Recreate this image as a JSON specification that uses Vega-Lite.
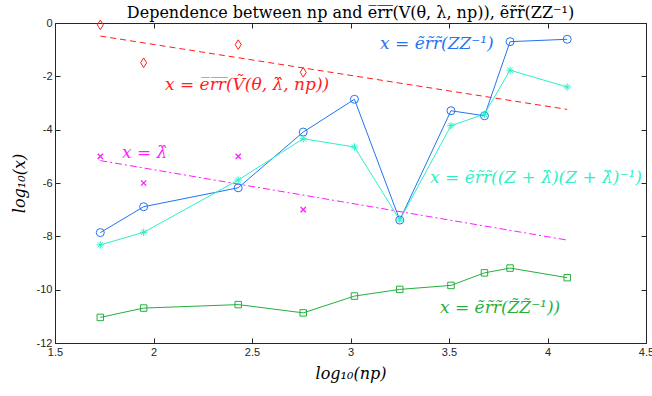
{
  "$schema": "https://vega.github.io/schema/vega-lite/v6.json",
  "width": 591,
  "height": 320,
  "autosize": {"type": "none"},
  "padding": {"left": 55, "top": 23, "right": 6, "bottom": 53},
  "background": "white",
  "title": {
    "text": "Dependence between np and e̅r̅r̅(V(θ, λ, np)), ẽr̃r̃(ZZ⁻¹)",
    "font": "DejaVu Serif",
    "fontSize": 16,
    "fontWeight": "normal",
    "color": "#000000",
    "anchor": "middle",
    "offset": -4
  },
  "config": {
    "view": {"stroke": "#262626", "strokeWidth": 1},
    "axis": {
      "grid": false,
      "labelFlush": false,
      "domainColor": "#262626",
      "tickColor": "#262626",
      "labelColor": "#262626",
      "labelFont": "Liberation Sans",
      "labelFontSize": 11,
      "titleFont": "DejaVu Serif",
      "titleFontStyle": "italic",
      "titleFontWeight": "normal",
      "titleFontSize": 16,
      "titleColor": "#000000"
    }
  },
  "datasets": {
    "pts": [
      {"series": "ZZ", "kind": "pts", "x": 1.73, "y": -7.86},
      {"series": "ZZ", "kind": "pts", "x": 1.95, "y": -6.89},
      {"series": "ZZ", "kind": "pts", "x": 2.43, "y": -6.18},
      {"series": "ZZ", "kind": "pts", "x": 2.76, "y": -4.09},
      {"series": "ZZ", "kind": "pts", "x": 3.02, "y": -2.86},
      {"series": "ZZ", "kind": "pts", "x": 3.25, "y": -7.39},
      {"series": "ZZ", "kind": "pts", "x": 3.51, "y": -3.29},
      {"series": "ZZ", "kind": "pts", "x": 3.68, "y": -3.48},
      {"series": "ZZ", "kind": "pts", "x": 3.81, "y": -0.70},
      {"series": "ZZ", "kind": "pts", "x": 4.10, "y": -0.61},
      {"series": "ZL", "kind": "pts", "x": 1.73, "y": -8.32},
      {"series": "ZL", "kind": "pts", "x": 1.95, "y": -7.85},
      {"series": "ZL", "kind": "pts", "x": 2.43, "y": -5.89},
      {"series": "ZL", "kind": "pts", "x": 2.76, "y": -4.34},
      {"series": "ZL", "kind": "pts", "x": 3.02, "y": -4.65},
      {"series": "ZL", "kind": "pts", "x": 3.25, "y": -7.39},
      {"series": "ZL", "kind": "pts", "x": 3.51, "y": -3.85},
      {"series": "ZL", "kind": "pts", "x": 3.68, "y": -3.42},
      {"series": "ZL", "kind": "pts", "x": 3.81, "y": -1.77},
      {"series": "ZL", "kind": "pts", "x": 4.10, "y": -2.40},
      {"series": "ZtZt", "kind": "pts", "x": 1.73, "y": -11.04},
      {"series": "ZtZt", "kind": "pts", "x": 1.95, "y": -10.69},
      {"series": "ZtZt", "kind": "pts", "x": 2.43, "y": -10.56},
      {"series": "ZtZt", "kind": "pts", "x": 2.76, "y": -10.87},
      {"series": "ZtZt", "kind": "pts", "x": 3.02, "y": -10.24},
      {"series": "ZtZt", "kind": "pts", "x": 3.25, "y": -9.99},
      {"series": "ZtZt", "kind": "pts", "x": 3.51, "y": -9.84},
      {"series": "ZtZt", "kind": "pts", "x": 3.68, "y": -9.37},
      {"series": "ZtZt", "kind": "pts", "x": 3.81, "y": -9.19},
      {"series": "ZtZt", "kind": "pts", "x": 4.10, "y": -9.55},
      {"series": "Vbar", "kind": "pts", "x": 1.73, "y": -0.07},
      {"series": "Vbar", "kind": "pts", "x": 1.95, "y": -1.49},
      {"series": "Vbar", "kind": "pts", "x": 2.43, "y": -0.81},
      {"series": "Vbar", "kind": "pts", "x": 2.76, "y": -1.85},
      {"series": "lambda", "kind": "pts", "x": 1.73, "y": -5.0},
      {"series": "lambda", "kind": "pts", "x": 1.95, "y": -6.0},
      {"series": "lambda", "kind": "pts", "x": 2.43, "y": -5.0},
      {"series": "lambda", "kind": "pts", "x": 2.76, "y": -7.0},
      {"series": "Vbar", "kind": "fit", "x": 1.73, "y": -0.49},
      {"series": "Vbar", "kind": "fit", "x": 4.10, "y": -3.24},
      {"series": "lambda", "kind": "fit", "x": 1.73, "y": -5.16},
      {"series": "lambda", "kind": "fit", "x": 4.10, "y": -8.14}
    ],
    "labels": [
      {"series": "Vbar", "x": 2.058, "y": -2.32, "text": "x = e̅r̅r̅(Ṽ(θ, λ̂, np))"},
      {"series": "lambda", "x": 1.84, "y": -4.87, "text": "x = λ̂"},
      {"series": "ZZ", "x": 3.15, "y": -0.79, "text": "x = ẽr̃r̃(ZZ⁻¹)"},
      {"series": "ZL", "x": 3.404, "y": -5.81, "text": "x = ẽr̃r̃((Z + λ̂)(Z + λ̂)⁻¹)"},
      {"series": "ZtZt", "x": 3.454, "y": -10.69, "text": "x = ẽr̃r̃(Z̃Z̃⁻¹))"}
    ]
  },
  "resolve": {"axis": {"x": "independent", "y": "independent"}},
  "layer": [
    {
      "data": {"name": "pts"},
      "transform": [{"filter": "datum.kind == 'pts' && (datum.series == 'ZZ' || datum.series == 'ZL' || datum.series == 'ZtZt')"}],
      "mark": {"type": "line", "strokeWidth": 1, "clip": false},
      "encoding": {
        "x": {"field": "x", "type": "quantitative", "scale": {"domain": [1.5, 4.5], "nice": false, "zero": false},
          "axis": {"orient": "bottom", "values": [1.5, 2, 2.5, 3, 3.5, 4, 4.5], "labelExpr": "'' + datum.value", "tickSize": -5, "labelPadding": 8, "title": "log₁₀(np)", "titlePadding": 8}},
        "y": {"field": "y", "type": "quantitative", "scale": {"domain": [-12, 0], "nice": false, "zero": false},
          "axis": {"orient": "left", "values": [0, -2, -4, -6, -8, -10, -12], "labelExpr": "'' + datum.value", "tickSize": -5, "labelPadding": 8, "title": "log₁₀(x)", "titlePadding": 9}},
        "color": {"field": "series", "type": "nominal", "legend": null,
          "scale": {"domain": ["ZZ", "ZL", "ZtZt", "Vbar", "lambda"], "range": ["#2274f2", "#2eefc6", "#23b03f", "#ff1c1c", "#ff1cff"]}},
        "detail": {"field": "series"}
      }
    },
    {
      "data": {"name": "pts"},
      "transform": [{"filter": "datum.kind == 'pts'"}],
      "mark": {"type": "rule", "opacity": 0},
      "encoding": {
        "x": {"field": "x", "type": "quantitative", "axis": {"orient": "top", "values": [1.5, 2, 2.5, 3, 3.5, 4, 4.5], "labels": false, "tickSize": -5, "title": null, "domain": false}},
        "y": {"field": "y", "type": "quantitative", "axis": {"orient": "right", "values": [0, -2, -4, -6, -8, -10, -12], "labels": false, "tickSize": -5, "title": null, "domain": false}}
      }
    },
    {
      "data": {"name": "pts"},
      "transform": [{"filter": "datum.kind == 'fit'"}],
      "mark": {"type": "line", "strokeWidth": 1, "strokeDash": [6, 4]},
      "encoding": {
        "x": {"field": "x", "type": "quantitative", "axis": null},
        "y": {"field": "y", "type": "quantitative", "axis": null},
        "color": {"field": "series", "type": "nominal", "legend": null},
        "strokeDash": {"field": "series", "type": "nominal", "legend": null,
          "scale": {"domain": ["Vbar", "lambda"], "range": [[6, 4], [7, 3, 2, 3]]}}
      }
    },
    {
      "data": {"name": "pts"},
      "transform": [{"filter": "datum.kind == 'pts' && datum.series == 'ZZ'"}],
      "mark": {"type": "point", "shape": "circle", "filled": false, "size": 64, "strokeWidth": 1, "opacity": 1},
      "encoding": {
        "x": {"field": "x", "type": "quantitative", "axis": null},
        "y": {"field": "y", "type": "quantitative", "axis": null},
        "color": {"field": "series", "type": "nominal", "legend": null}
      }
    },
    {
      "data": {"name": "pts"},
      "transform": [{"filter": "datum.kind == 'pts' && datum.series == 'ZL'"}],
      "mark": {"type": "point", "shape": "M-1,0L1,0M0,-1L0,1M-0.7,-0.7L0.7,0.7M-0.7,0.7L0.7,-0.7", "filled": false, "size": 56, "strokeWidth": 1, "opacity": 1},
      "encoding": {
        "x": {"field": "x", "type": "quantitative", "axis": null},
        "y": {"field": "y", "type": "quantitative", "axis": null},
        "color": {"field": "series", "type": "nominal", "legend": null}
      }
    },
    {
      "data": {"name": "pts"},
      "transform": [{"filter": "datum.kind == 'pts' && datum.series == 'ZtZt'"}],
      "mark": {"type": "point", "shape": "square", "filled": false, "size": 42, "strokeWidth": 1, "opacity": 1},
      "encoding": {
        "x": {"field": "x", "type": "quantitative", "axis": null},
        "y": {"field": "y", "type": "quantitative", "axis": null},
        "color": {"field": "series", "type": "nominal", "legend": null}
      }
    },
    {
      "data": {"name": "pts"},
      "transform": [{"filter": "datum.kind == 'pts' && datum.series == 'Vbar'"}],
      "mark": {"type": "point", "shape": "M0,-1.2L0.75,0L0,1.2L-0.75,0Z", "filled": false, "size": 64, "strokeWidth": 1, "opacity": 1},
      "encoding": {
        "x": {"field": "x", "type": "quantitative", "axis": null},
        "y": {"field": "y", "type": "quantitative", "axis": null},
        "color": {"field": "series", "type": "nominal", "legend": null}
      }
    },
    {
      "data": {"name": "pts"},
      "transform": [{"filter": "datum.kind == 'pts' && datum.series == 'lambda'"}],
      "mark": {"type": "point", "shape": "M-0.75,-0.75L0.75,0.75M-0.75,0.75L0.75,-0.75", "filled": false, "size": 49, "strokeWidth": 1.3, "opacity": 1},
      "encoding": {
        "x": {"field": "x", "type": "quantitative", "axis": null},
        "y": {"field": "y", "type": "quantitative", "axis": null},
        "color": {"field": "series", "type": "nominal", "legend": null}
      }
    },
    {
      "data": {"name": "labels"},
      "mark": {"type": "text", "align": "left", "baseline": "middle", "font": "DejaVu Serif", "fontStyle": "italic", "fontSize": 17},
      "encoding": {
        "x": {"field": "x", "type": "quantitative", "axis": null},
        "y": {"field": "y", "type": "quantitative", "axis": null},
        "text": {"field": "text"},
        "color": {"field": "series", "type": "nominal", "legend": null}
      }
    }
  ]
}
